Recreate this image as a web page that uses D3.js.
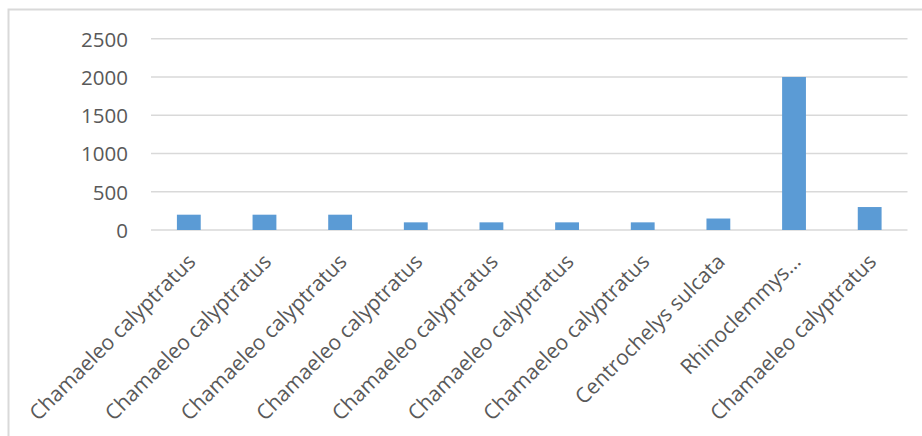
<!DOCTYPE html>
<html><head><meta charset="utf-8">
<script src="https://cdn.jsdelivr.net/npm/d3@7"></script>
<style>html,body{margin:0;padding:0;background:#fff;}</style>
</head><body>
<svg id="chart" width="922" height="436"></svg>
<script>
const categories = ["Chamaeleo calyptratus","Chamaeleo calyptratus","Chamaeleo calyptratus","Chamaeleo calyptratus","Chamaeleo calyptratus","Chamaeleo calyptratus","Chamaeleo calyptratus","Centrochelys sulcata","Rhinoclemmys…","Chamaeleo calyptratus"];
const values = [200,200,200,100,100,100,100,150,2000,300];
const yTicks = [0,500,1000,1500,2000,2500];

(function(){
const svg = d3.select("#chart");
const font = "'Open Sans', sans-serif";
svg.append("path").attr("d","M8.5,436 L8.5,9.5 L922,9.5").attr("fill","none").attr("stroke","#d9d9d9").attr("stroke-width",2);

const pLeft = 151, pRight = 907.5, pTop = 38.7, pBottom = 230;
const x = d3.scaleBand().domain(d3.range(categories.length)).range([pLeft,pRight]).paddingInner(0.685).paddingOuter(0.3425);
const y = d3.scaleLinear().domain([0,2500]).range([pBottom,pTop]);

const g = svg.append("g");
g.selectAll("line.grid").data(yTicks).join("line").attr("class","grid")
  .attr("x1",pLeft).attr("x2",pRight).attr("y1",d=>y(d)).attr("y2",d=>y(d))
  .attr("stroke","#d9d9d9").attr("stroke-width",1.5);

const yAxis = d3.axisLeft(y).tickValues(yTicks).tickFormat(d3.format("d")).tickSize(0).tickPadding(0);
const ya = svg.append("g").attr("transform",`translate(${pLeft-23},0)`).call(yAxis);
ya.select(".domain").remove();
ya.selectAll("text").attr("font-family",font).attr("font-size","20.5px").attr("fill","#595959").attr("dy","0.36em");

g.selectAll("rect.bar").data(values).join("rect").attr("class","bar")
  .attr("x",(d,i)=>x(i)).attr("width",x.bandwidth())
  .attr("y",d=>y(d)).attr("height",d=>pBottom-y(d))
  .attr("fill","#5b9bd5");

const xAxis = d3.axisBottom(x).tickFormat(i=>categories[i]).tickSize(0).tickPadding(0);
const xa = svg.append("g").attr("transform",`translate(0,${pBottom})`).call(xAxis);
xa.select(".domain").remove();
xa.selectAll("text").attr("font-family",font).attr("font-size","21px").attr("fill","#595959")
  .attr("text-anchor","end").attr("dy",null).attr("y",0)
  .attr("transform","translate(8,33) rotate(-45)");
})();
</script>
</body></html>
